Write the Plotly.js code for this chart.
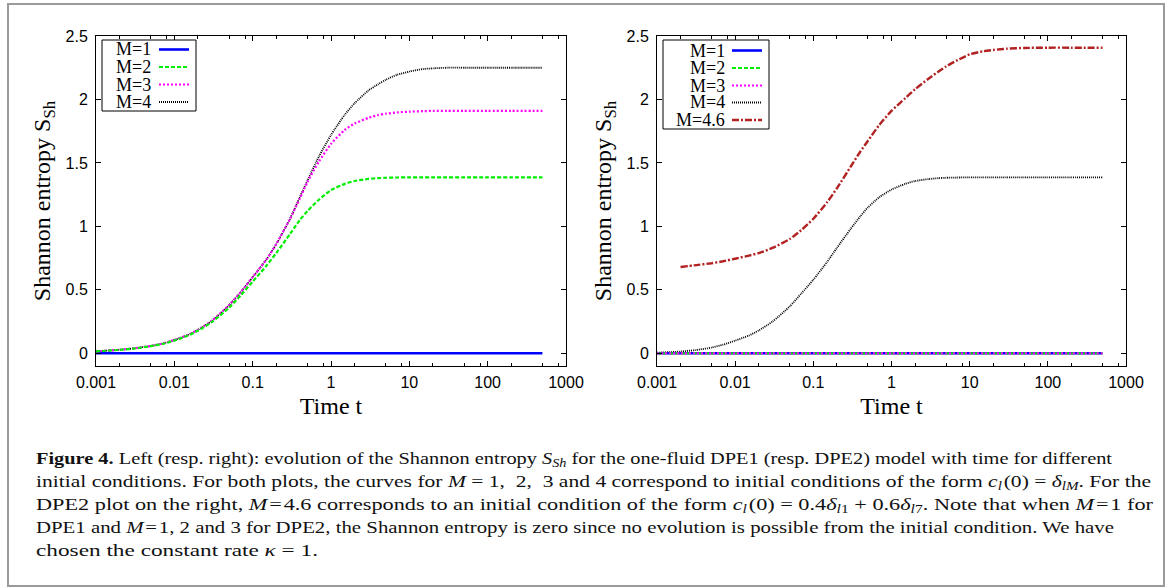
<!DOCTYPE html>
<html>
<head>
<meta charset="utf-8">
<script src="https://cdn.plot.ly/plotly-3.0.1.min.js"></script>
<style>
  html, body { margin: 0; padding: 0; background: #fff; }
  body { width: 1171px; height: 588px; position: relative; overflow: hidden; }
  #frame { position: absolute; left: 7px; top: 3px; width: 1158px; height: 584px;
           box-sizing: border-box; border: 2px solid #9a9a9a; }
  #plot { position: absolute; left: 0; top: 0; width: 1171px; height: 430px; }
  #cap { position: absolute; left: 36px; top: 448px; font-family: 'Liberation Serif', 'Times New Roman', serif;
         font-size: 17px; line-height: 22.9px; color: #111; white-space: nowrap; }
  #cap .ln span { display: inline-block; transform-origin: 0 50%; }
  #cap sub { font-size: 70%; vertical-align: -0.25em; line-height: 0; }
</style>
</head>
<body>
<div id="frame"></div>
<div id="plot"></div>
<div id="cap">
  <div class="ln"><span><b>Figure 4.</b> Left (resp. right): evolution of the Shannon entropy <i>S<sub>Sh</sub></i> for the one-fluid DPE1 (resp. DPE2) model with time for different</span></div>
  <div class="ln"><span>initial conditions. For both plots, the curves for <i>M</i> = 1, &nbsp;2, &nbsp;3 and 4 correspond to initial conditions of the form <i>c<sub>l</sub></i>&#8202;(0) = <i>δ<sub>lM</sub></i>. For the</span></div>
  <div class="ln"><span>DPE2 plot on the right, <i>M</i>&#8202;=&#8202;4.6 corresponds to an initial condition of the form <i>c<sub>l</sub></i>&#8202;(0) = 0.4<i>δ<sub>l</sub></i><sub>1</sub> + 0.6<i>δ<sub>l</sub></i><sub>7</sub>. Note that when <i>M</i>&#8202;=&#8202;1 for</span></div>
  <div class="ln"><span>DPE1 and <i>M</i>&#8202;=&#8202;1, 2 and 3 for DPE2, the Shannon entropy is zero since no evolution is possible from the initial condition. We have</span></div>
  <div class="ln"><span>chosen the constant rate <i>κ</i> = 1.</span></div>
</div>
<script>
// ---------------- data ----------------
const time = [0.001,0.002,0.003,0.005,0.007,0.01,0.015,0.02,0.03,0.05,0.07,0.1,0.15,0.2,0.3,0.4,0.5,0.7,1,1.5,2,3,4,5,7,10,15,20,30,50,100,200,500];

// Left panel: DPE1
const dpe1_M1 = [0,0,0,0,0,0,0,0,0,0,0,0,0,0,0,0,0,0,0,0,0,0,0,0,0,0,0,0,0,0,0,0,0];
const dpe1_M2 = [0.015,0.027,0.037,0.056,0.073,0.1,0.14,0.178,0.245,0.36,0.455,0.565,0.69,0.79,0.94,1.05,1.12,1.21,1.285,1.335,1.358,1.374,1.38,1.383,1.385,1.386,1.386,1.386,1.386,1.386,1.386,1.386,1.386];
const dpe1_M3 = [0.015,0.028,0.039,0.058,0.076,0.105,0.145,0.185,0.255,0.38,0.48,0.6,0.74,0.86,1.06,1.22,1.35,1.51,1.65,1.76,1.81,1.855,1.877,1.888,1.898,1.904,1.908,1.91,1.91,1.91,1.91,1.91,1.91];
const dpe1_M4 = [0.015,0.028,0.039,0.058,0.076,0.105,0.145,0.185,0.255,0.38,0.48,0.6,0.74,0.86,1.06,1.23,1.36,1.55,1.72,1.88,1.97,2.07,2.12,2.155,2.195,2.22,2.24,2.245,2.25,2.25,2.25,2.25,2.25];

// Right panel: DPE2
const dpe2_M1 = [0,0,0,0,0,0,0,0,0,0,0,0,0,0,0,0,0,0,0,0,0,0,0,0,0,0,0,0,0,0,0,0,0];
const dpe2_M2 = [0,0,0,0,0,0,0,0,0,0,0,0,0,0,0,0,0,0,0,0,0,0,0,0,0,0,0,0,0,0,0,0,0];
const dpe2_M3 = [0,0,0,0,0,0,0,0,0,0,0,0,0,0,0,0,0,0,0,0,0,0,0,0,0,0,0,0,0,0,0,0,0];
const dpe2_M4 = [0.005,0.014,0.024,0.045,0.068,0.1,0.14,0.18,0.25,0.37,0.47,0.58,0.72,0.83,0.98,1.08,1.15,1.23,1.29,1.335,1.357,1.373,1.38,1.383,1.385,1.386,1.386,1.386,1.386,1.386,1.386,1.386,1.386];
const time46  = [0.002,0.003,0.005,0.007,0.01,0.015,0.02,0.03,0.05,0.07,0.1,0.15,0.2,0.3,0.4,0.5,0.7,1,1.5,2,3,4,5,7,10,15,20,30,50,100,200,500];
const dpe2_M46 = [0.68,0.693,0.71,0.725,0.745,0.77,0.79,0.83,0.9,0.97,1.06,1.19,1.3,1.47,1.59,1.675,1.8,1.91,2.01,2.08,2.165,2.22,2.26,2.31,2.355,2.38,2.39,2.4,2.406,2.408,2.408,2.408];

const xTickVals = [0.001,0.01,0.1,1,10,100,1000];
const xTickText = ['0.001','0.01','0.1','1','10','100','1000'];
const yTickVals = [0,0.5,1,1.5,2,2.5];
const yTickText = ['0','0.5','1','1.5','2','2.5'];
const xMinorVals = [0.002,0.005,0.008,0.02,0.05,0.08,0.2,0.5,0.8,2,5,8,20,50,80,200,500,800];

const labelsLeft  = ['M=1','M=2','M=3','M=4'];
const labelsRight = ['M=1','M=2','M=3','M=4','M=4.6'];

// ---------------- styles ----------------
const W = 1171, H = 430;
const st = {
  M1:  {color:'#0000ff', dash:'solid', width:2.6},
  M2:  {color:'#00ee00', dash:'4px,2px', width:2.2},
  M3:  {color:'#ff00ff', dash:'2px,2px', width:2.2},
  M4:  {color:'#000000', dash:'1px,1px', width:1.8},
  M46: {color:'#b22222', dash:'7px,2px,2px,2px', width:2.4}
};
function tr(x, y, s, xa, ya) {
  return {x:x, y:y, type:'scatter', mode:'lines', xaxis:xa, yaxis:ya, showlegend:false,
          line:{color:s.color, dash:s.dash, width:s.width, shape:'spline', smoothing:0.6},
          hoverinfo:'skip'};
}
const traces = [
  tr(time, dpe1_M1, st.M1, 'x', 'y'),
  tr(time, dpe1_M4, st.M4, 'x', 'y'),
  tr(time, dpe1_M3, st.M3, 'x', 'y'),
  tr(time, dpe1_M2, st.M2, 'x', 'y'),
  tr(time46, dpe2_M46, st.M46, 'x2', 'y2'),
  tr(time, dpe2_M4, st.M4, 'x2', 'y2'),
  tr(time, dpe2_M1, st.M1, 'x2', 'y2'),
  tr(time, dpe2_M2, st.M2, 'x2', 'y2'),
  tr(time, dpe2_M3, st.M3, 'x2', 'y2')
];

const tickFont = {family:'Liberation Sans, Arial, sans-serif', size:16, color:'#000'};
const titleFont = {family:'Liberation Serif, Times New Roman, serif', size:24, color:'#000'};
function xax(dom, anchor) {
  return {type:'log', domain:dom, anchor:anchor, range:[-3,3], tickmode:'array', tickvals:xTickVals, ticktext:xTickText,
          ticks:'inside', ticklen:5, tickwidth:1, tickcolor:'#000', showline:true, linecolor:'#000', linewidth:1,
          mirror:'allticks', showgrid:false, zeroline:false, tickfont:Object.assign({}, tickFont), ticklabelstandoff:2,
          minor:{tickmode:'array', tickvals:xMinorVals, ticks:'inside', ticklen:3, tickcolor:'#000', tickwidth:1, showgrid:false},
          title:{text:'Time t', font:Object.assign({}, titleFont), standoff:6}, automargin:false, fixedrange:true};
}
function yax(dom, anchor) {
  return {domain:dom, range:[-0.1,2.5], tickmode:'array', tickvals:yTickVals, ticktext:yTickText, anchor:anchor,
          ticks:'inside', ticklen:5, tickwidth:1, tickcolor:'#000', showline:true, linecolor:'#000', linewidth:1,
          mirror:'allticks', showgrid:false, zeroline:false, tickfont:Object.assign({}, tickFont), ticklabelstandoff:4,
          title:{text:'Shannon entropy S<sub>Sh</sub>', font:Object.assign({}, titleFont), standoff:8}, automargin:false, fixedrange:true};
}
const yDom = [1-366/H, 1-36/H];

// custom legends (text left, sample right, as in the reference)
const shapes = [], annotations = [];
const legFont = {family:'Liberation Serif, Times New Roman, serif', size:18, color:'#000'};
function px(x){return x/W;} function py(y){return 1-y/H;}
function legend(labels, styles, box, textRight, s0, s1, rows) {
  shapes.push({type:'rect', xref:'paper', yref:'paper', x0:px(box[0]), x1:px(box[1]), y0:py(box[2]), y1:py(box[3]),
               line:{color:'#000', width:1}, fillcolor:'#fff', layer:'above'});
  labels.forEach((lab, i) => {
    annotations.push({xref:'paper', yref:'paper', x:px(textRight), y:py(rows[i]), xanchor:'right', yanchor:'middle',
                      text:lab, showarrow:false, font:legFont, borderpad:0});
    const s = styles[i];
    shapes.push({type:'line', xref:'paper', yref:'paper', x0:px(s0), x1:px(s1), y0:py(rows[i]), y1:py(rows[i]),
                 line:{color:s.color, dash:s.dash, width:s.width}, layer:'above'});
  });
}
legend(labelsLeft, [st.M1, st.M2, st.M3, st.M4], [102,196,40,111], 152, 159, 189, [49.5,67,84.5,102]);
legend(labelsRight, [st.M1, st.M2, st.M3, st.M4, st.M46], [663,769,40,129], 726, 732, 762, [50.5,68,85.5,102.5,120]);

const layout = {
  width:W, height:H, margin:{l:0,r:0,t:0,b:0}, paper_bgcolor:'rgba(0,0,0,0)', plot_bgcolor:'#fff',
  font:{family:'Liberation Sans, Arial, sans-serif', size:16, color:'#000'},
  xaxis: xax([96/W, 566/W], 'y'),
  yaxis: yax(yDom, 'x'),
  xaxis2: xax([657/W, 1126/W], 'y2'),
  yaxis2: yax(yDom, 'x2'),
  shapes: shapes, annotations: annotations
};

Plotly.newPlot('plot', traces, layout, {staticPlot:true, displayModeBar:false});

// fit caption lines to the widths seen in the reference
const capEnds = [1112, 1151, 1153, 1114, 318];
document.querySelectorAll('#cap .ln span').forEach((sp, i) => {
  const w = sp.getBoundingClientRect().width;
  const target = capEnds[i] - 36;
  sp.style.transform = 'scaleX(' + (target / w) + ')';
});
</script>
</body>
</html>
